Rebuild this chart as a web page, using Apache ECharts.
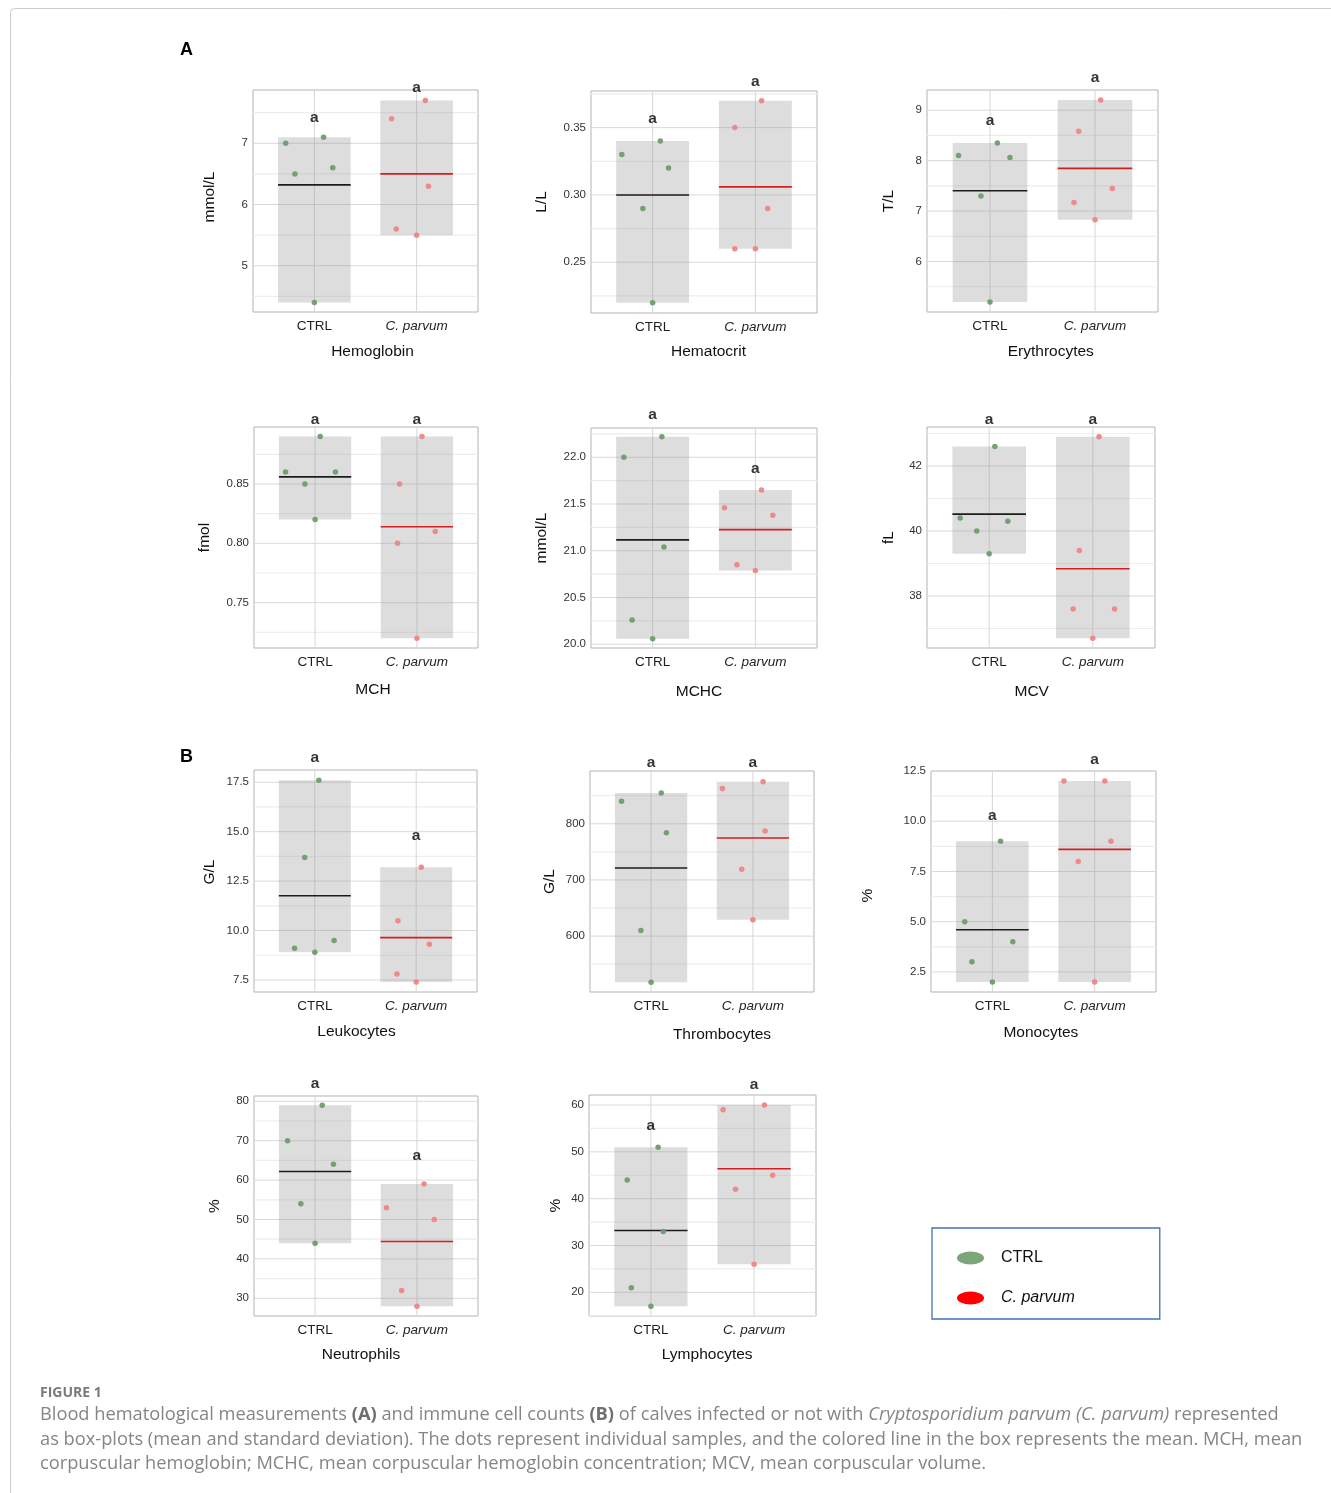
<!DOCTYPE html>
<html>
<head>
<meta charset="utf-8">
<script src="https://cdn.jsdelivr.net/npm/echarts@6/dist/echarts.min.js"></script>
<style>
html,body{margin:0;padding:0;background:#fff;}
#chart{width:1331px;height:1493px;}
</style>
</head>
<body>
<div id="chart"></div>
<script>
// ---------------- DATA ----------------
const groups = ['CTRL', 'C. parvum'];
const panelTitles = ['Hemoglobin', 'Hematocrit', 'Erythrocytes', 'MCH', 'MCHC', 'MCV',
  'Leukocytes', 'Thrombocytes', 'Monocytes', 'Neutrophils', 'Lymphocytes'];
const panelUnits = ['mmol/L', 'L/L', 'T/L', 'fmol', 'mmol/L', 'fL', 'G/L', 'G/L', '%', '%', '%'];

// individual samples (CTRL / C. parvum) and horizontal jitter of the dots
const hemoglobinCtrl = [7.0, 6.5, 7.1, 6.6, 4.4];
const hemoglobinCp = [7.4, 7.7, 6.3, 5.6, 5.5];
const hemoglobinCtrlJitter = [-0.28, -0.19, 0.09, 0.18, 0];
const hemoglobinCpJitter = [-0.245, 0.085, 0.115, -0.2, 0];

const hematocritCtrl = [0.33, 0.34, 0.32, 0.29, 0.22];
const hematocritCp = [0.35, 0.37, 0.29, 0.26, 0.26];
const hematocritCtrlJitter = [-0.30, 0.075, 0.155, -0.095, 0];
const hematocritCpJitter = [-0.2, 0.06, 0.12, -0.2, 0];

const erythrocytesCtrl = [8.1, 8.35, 8.06, 7.3, 5.2];
const erythrocytesCp = [8.58, 9.2, 7.45, 7.17, 6.83];
const erythrocytesCtrlJitter = [-0.30, 0.07, 0.19, -0.086, 0];
const erythrocytesCpJitter = [-0.155, 0.054, 0.165, -0.2, 0];

const mchCtrl = [0.86, 0.89, 0.86, 0.85, 0.82];
const mchCp = [0.85, 0.89, 0.81, 0.80, 0.72];
const mchCtrlJitter = [-0.29, 0.05, 0.2, -0.1, 0];
const mchCpJitter = [-0.17, 0.05, 0.18, -0.19, 0];

const mchcCtrl = [22.0, 22.22, 21.04, 20.26, 20.06];
const mchcCp = [21.46, 21.65, 21.38, 20.85, 20.79];
const mchcCtrlJitter = [-0.28, 0.09, 0.11, -0.2, 0];
const mchcCpJitter = [-0.3, 0.06, 0.17, -0.18, 0];

const mcvCtrl = [40.4, 42.6, 40.3, 40.0, 39.3];
const mcvCp = [39.4, 42.9, 37.6, 37.6, 36.7];
const mcvCtrlJitter = [-0.28, 0.055, 0.18, -0.12, 0];
const mcvCpJitter = [-0.13, 0.06, 0.21, -0.19, 0];

const leukocytesCtrl = [17.6, 13.7, 9.1, 8.9, 9.5];
const leukocytesCp = [13.2, 10.5, 9.3, 7.8, 7.4];
const leukocytesCtrlJitter = [0.04, -0.1, -0.2, 0, 0.19];
const leukocytesCpJitter = [0.05, -0.18, 0.13, -0.19, 0];

const thrombocytesCtrl = [840, 855, 784, 610, 518];
const thrombocytesCp = [863, 875, 787, 719, 629];
const thrombocytesCtrlJitter = [-0.29, 0.1, 0.15, -0.1, 0];
const thrombocytesCpJitter = [-0.3, 0.1, 0.12, -0.11, 0];

const monocytesCtrl = [9, 5, 3, 2, 4];
const monocytesCp = [12, 12, 9, 8, 2];
const monocytesCtrlJitter = [0.08, -0.27, -0.2, 0, 0.2];
const monocytesCpJitter = [-0.3, 0.1, 0.16, -0.16, 0];

const neutrophilsCtrl = [79, 70, 64, 54, 44];
const neutrophilsCp = [59, 53, 50, 32, 28];
const neutrophilsCtrlJitter = [0.07, -0.27, 0.18, -0.14, 0];
const neutrophilsCpJitter = [0.07, -0.3, 0.17, -0.15, 0];

const lymphocytesCtrl = [51, 44, 33, 21, 17];
const lymphocytesCp = [59, 60, 45, 42, 26];
const lymphocytesCtrlJitter = [0.07, -0.23, 0.12, -0.19, 0];
const lymphocytesCpJitter = [-0.3, 0.1, 0.18, -0.18, 0];

// significance letter heights (data units) [CTRL, C. parvum]
const hemoglobinLetterY = [7.42, 7.91];
const hematocritLetterY = [0.3567, 0.3844];
const erythrocytesLetterY = [8.79, 9.635];
const mchLetterY = [0.9045, 0.9045];
const mchcLetterY = [22.452, 21.88];
const mcvLetterY = [43.42, 43.42];
const leukocytesLetterY = [18.72, 14.78];
const thrombocytesLetterY = [908, 908];
const monocytesLetterY = [10.26, 13.07];
const neutrophilsLetterY = [84.5, 66.1];
const lymphocytesLetterY = [55.6, 64.3];
const sigLetters = ['a', 'a'];

// y tick values and labels
const hemoglobinTicks = [5, 6, 7];
const hemoglobinTickLabels = ['5', '6', '7'];
const hematocritTicks = [0.25, 0.30, 0.35];
const hematocritTickLabels = ['0.25', '0.30', '0.35'];
const erythrocytesTicks = [6, 7, 8, 9];
const erythrocytesTickLabels = ['6', '7', '8', '9'];
const mchTicks = [0.75, 0.80, 0.85];
const mchTickLabels = ['0.75', '0.80', '0.85'];
const mchcTicks = [20.0, 20.5, 21.0, 21.5, 22.0];
const mchcTickLabels = ['20.0', '20.5', '21.0', '21.5', '22.0'];
const mcvTicks = [38, 40, 42];
const mcvTickLabels = ['38', '40', '42'];
const leukocytesTicks = [7.5, 10, 12.5, 15, 17.5];
const leukocytesTickLabels = ['7.5', '10.0', '12.5', '15.0', '17.5'];
const thrombocytesTicks = [600, 700, 800];
const thrombocytesTickLabels = ['600', '700', '800'];
const monocytesTicks = [2.5, 5, 7.5, 10, 12.5];
const monocytesTickLabels = ['2.5', '5.0', '7.5', '10.0', '12.5'];
const neutrophilsTicks = [30, 40, 50, 60, 70, 80];
const neutrophilsTickLabels = ['30', '40', '50', '60', '70', '80'];
const lymphocytesTicks = [20, 30, 40, 50, 60];
const lymphocytesTickLabels = ['20', '30', '40', '50', '60'];

// y axis ranges
const yMins = [4.245, 0.2123, 5.0, 0.7118, 19.96, 36.4, 6.89, 500.5, 1.5, 25.5, 14.94];
const yMaxs = [7.87, 0.3772, 9.40, 0.898, 22.313, 43.2, 18.12, 894, 12.5, 81.35, 62.14];

// ---------------- LAYOUT (pixels) ----------------
const gridRects = [ // left, top, right, bottom
  [253, 90, 478, 312], [591, 91, 817, 313], [927, 90, 1158, 312],
  [254, 427, 478, 648], [591, 428, 817, 648], [927, 427, 1155, 648],
  [254, 770, 477, 992], [590, 771, 814, 992], [931, 771, 1156, 992],
  [254, 1096, 478, 1316], [589, 1095, 816, 1316]
];
const yNameDist = [43.7, 49.3, 38.7, 49, 49.6, 38.4, 44.3, 40, 63, 39.3, 33.6];
const yNameShift = [-4, 0, 0, 0, 0, 0, -9, 0, 14, 0, 0];
const xTitleDist = [39.7, 39, 39.7, 41.7, 43.7, 43.3, 39.3, 42.7, 41, 38.3, 38.3];
const xTitleShift = [7, 4.5, 8.3, 7, -5, -9.3, -9, 20, -2.6, -5, 4.7];

const ctrlValues = [hemoglobinCtrl, hematocritCtrl, erythrocytesCtrl, mchCtrl, mchcCtrl, mcvCtrl,
  leukocytesCtrl, thrombocytesCtrl, monocytesCtrl, neutrophilsCtrl, lymphocytesCtrl];
const cpValues = [hemoglobinCp, hematocritCp, erythrocytesCp, mchCp, mchcCp, mcvCp,
  leukocytesCp, thrombocytesCp, monocytesCp, neutrophilsCp, lymphocytesCp];
const ctrlJitters = [hemoglobinCtrlJitter, hematocritCtrlJitter, erythrocytesCtrlJitter, mchCtrlJitter,
  mchcCtrlJitter, mcvCtrlJitter, leukocytesCtrlJitter, thrombocytesCtrlJitter, monocytesCtrlJitter,
  neutrophilsCtrlJitter, lymphocytesCtrlJitter];
const cpJitters = [hemoglobinCpJitter, hematocritCpJitter, erythrocytesCpJitter, mchCpJitter,
  mchcCpJitter, mcvCpJitter, leukocytesCpJitter, thrombocytesCpJitter, monocytesCpJitter,
  neutrophilsCpJitter, lymphocytesCpJitter];
const letterYs = [hemoglobinLetterY, hematocritLetterY, erythrocytesLetterY, mchLetterY, mchcLetterY,
  mcvLetterY, leukocytesLetterY, thrombocytesLetterY, monocytesLetterY, neutrophilsLetterY, lymphocytesLetterY];
const tickValues = [hemoglobinTicks, hematocritTicks, erythrocytesTicks, mchTicks, mchcTicks, mcvTicks,
  leukocytesTicks, thrombocytesTicks, monocytesTicks, neutrophilsTicks, lymphocytesTicks];
const tickLabels = [hemoglobinTickLabels, hematocritTickLabels, erythrocytesTickLabels, mchTickLabels,
  mchcTickLabels, mcvTickLabels, leukocytesTickLabels, thrombocytesTickLabels, monocytesTickLabels,
  neutrophilsTickLabels, lymphocytesTickLabels];

// ---------------- STYLE ----------------
const FONT = '"Liberation Sans", Arial, sans-serif';
const X_MIN = 0.4, X_MAX = 2.6, BOX_HALF = 0.355;
const CTRL_DOT = '#6d9d6d';
const CP_DOT = '#ef8585';
const MEAN_COLORS = ['#1c1c1c', '#d21f1f'];
const ELLIPSE = 'path://M0,6.5A13.5,6.5,0,1,0,27,6.5A13.5,6.5,0,1,0,0,6.5Z';

function mean(a) { return a.reduce((s, v) => s + v, 0) / a.length; }

function renderGridLine(params, api) {
  const kind = api.value(2);
  const cs = params.coordSys;
  const p = api.coord([api.value(0), api.value(1)]);
  if (kind === 2) {
    return { type: 'line', shape: { x1: p[0], y1: cs.y, x2: p[0], y2: cs.y + cs.height },
      style: { stroke: '#d6d6d6', lineWidth: 1 } };
  }
  return { type: 'line', shape: { x1: cs.x, y1: p[1], x2: cs.x + cs.width, y2: p[1] },
    style: { stroke: kind === 0 ? '#d9d9d9' : '#ededed', lineWidth: kind === 0 ? 1 : 1.2 } };
}

function renderBox(params, api) {
  const g = api.value(0), lo = api.value(1), hi = api.value(2), m = api.value(3);
  const tl = api.coord([g - BOX_HALF, hi]);
  const br = api.coord([g + BOX_HALF, lo]);
  const m1 = api.coord([g - BOX_HALF, m]);
  const m2 = api.coord([g + BOX_HALF, m]);
  return { type: 'group', children: [
    { type: 'rect', shape: { x: tl[0], y: tl[1], width: br[0] - tl[0], height: br[1] - tl[1] },
      style: { fill: 'rgba(150,150,150,0.32)' } },
    { type: 'line', shape: { x1: m1[0], y1: m1[1], x2: m2[0], y2: m2[1] },
      style: { stroke: MEAN_COLORS[params.dataIndex], lineWidth: 1.6 } }
  ] };
}

const grids = [], xAxes = [], yAxes = [], series = [];
for (let i = 0; i < panelTitles.length; i++) {
  const r = gridRects[i];
  grids.push({ left: r[0], top: r[1], width: r[2] - r[0], height: r[3] - r[1],
    show: true, borderColor: '#b3b3b3', borderWidth: 1, backgroundColor: '#ffffff' });
  const shift = xTitleShift[i];
  xAxes.push({
    gridIndex: i, type: 'value', min: X_MIN, max: X_MAX,
    axisLine: { show: false }, axisTick: { show: false }, splitLine: { show: false },
    axisLabel: {
      customValues: [1, 2], margin: 7,
      formatter: v => (Math.abs(v - 1) < 1e-6 ? '{n|' + groups[0] + '}' : '{i|' + groups[1] + '}'),
      rich: {
        n: { fontFamily: FONT, fontSize: 13.5, color: '#1f1f1f' },
        i: { fontFamily: FONT, fontSize: 13.5, color: '#1f1f1f', fontStyle: 'italic' }
      }
    },
    name: panelTitles[i], nameLocation: 'middle', nameGap: xTitleDist[i] - 8,
    nameTextStyle: { fontFamily: FONT, fontSize: 15.5, color: '#111',
      padding: shift >= 0 ? [0, 0, 0, 2 * shift] : [0, -2 * shift, 0, 0] }
  });
  const ticks = tickValues[i], labels = tickLabels[i];
  const ys = yNameShift[i];
  yAxes.push({
    gridIndex: i, type: 'value', min: yMins[i], max: yMaxs[i],
    axisLine: { show: false }, axisTick: { show: false }, splitLine: { show: false },
    axisLabel: {
      customValues: ticks, margin: 5, fontFamily: FONT, fontSize: 11.5, color: '#333',
      formatter: v => { const k = ticks.findIndex(t => Math.abs(t - v) < 1e-9); return k >= 0 ? labels[k] : ''; }
    },
    name: panelUnits[i], nameLocation: 'middle', nameGap: yNameDist[i] - 8,
    nameTextStyle: { fontFamily: FONT, fontSize: 15.5, color: '#111',
      padding: ys >= 0 ? [0, 2 * ys, 0, 0] : [0, 0, 0, -2 * ys] }
  });

  // grid lines data (major, minor, vertical)
  const step = ticks.length > 1 ? ticks[1] - ticks[0] : 1;
  const gridData = [];
  ticks.forEach(t => gridData.push([1, t, 0]));
  const minors = [];
  for (let k = 0; k < ticks.length - 1; k++) minors.push((ticks[k] + ticks[k + 1]) / 2);
  minors.push(ticks[0] - step / 2, ticks[ticks.length - 1] + step / 2);
  minors.filter(v => v >= yMins[i] && v <= yMaxs[i]).forEach(v => gridData.push([1, v, 1]));
  gridData.push([1, (yMins[i] + yMaxs[i]) / 2, 2], [2, (yMins[i] + yMaxs[i]) / 2, 2]);

  series.push({
    type: 'custom', name: 'grid' + i, xAxisIndex: i, yAxisIndex: i, z: 1, silent: true,
    renderItem: renderGridLine, data: gridData, encode: { x: 0, y: 1 }
  });
  const c = ctrlValues[i], p = cpValues[i];
  series.push({
    type: 'custom', name: 'box' + i, xAxisIndex: i, yAxisIndex: i, z: 2, silent: true,
    renderItem: renderBox,
    data: [[1, Math.min(...c), Math.max(...c), mean(c)], [2, Math.min(...p), Math.max(...p), mean(p)]],
    encode: { x: 0, y: [1, 2, 3] }
  });
  series.push({
    type: 'scatter', name: groups[0], xAxisIndex: i, yAxisIndex: i, z: 3, symbolSize: 5.5,
    itemStyle: { color: CTRL_DOT, opacity: 0.95 },
    data: c.map((v, k) => [1 + ctrlJitters[i][k], v])
  });
  series.push({
    type: 'scatter', name: groups[1], xAxisIndex: i, yAxisIndex: i, z: 3, symbolSize: 5.5,
    itemStyle: { color: CP_DOT, opacity: 0.95 },
    data: p.map((v, k) => [2 + cpJitters[i][k], v])
  });
  series.push({
    type: 'scatter', name: 'letters' + i, xAxisIndex: i, yAxisIndex: i, z: 4, symbolSize: 0, clip: false,
    silent: true,
    label: { show: true, position: 'inside', formatter: d => sigLetters[d.dataIndex],
      fontFamily: FONT, fontWeight: 'bold', fontSize: 15.5, color: '#000' },
    data: letterYs[i].map((v, k) => [k + 1, v])
  });
}

const CAP_COLOR = '#858585';
const CAP_FONT = '"Open Sans", "Noto Sans", sans-serif';
const CAP_SIZE = 18.25;
const capRich = {
  b: { fontFamily: CAP_FONT, fontSize: CAP_SIZE, fontWeight: 'bold', fill: '#6f6f6f' },
  i: { fontFamily: CAP_FONT, fontSize: CAP_SIZE, fontStyle: 'italic', fill: CAP_COLOR }
};

const option = {
  animation: false,
  backgroundColor: '#ffffff',
  grid: grids, xAxis: xAxes, yAxis: yAxes, series: series,
  legend: {
    orient: 'vertical', left: 932, top: 1228, selectedMode: false,
    borderColor: '#3f72b8', borderWidth: 1.3, padding: [22, 85, 13, 25],
    itemWidth: 27, itemHeight: 13, itemGap: 24,
    textStyle: { fontFamily: FONT, fontSize: 16, color: '#111', padding: [0, 0, 0, 12] },
    data: [
      { name: groups[0], icon: ELLIPSE, itemStyle: { color: '#7aa67a', opacity: 1 } },
      { name: groups[1], icon: ELLIPSE, itemStyle: { color: '#ff0000', opacity: 1 },
        textStyle: { fontStyle: 'italic' } }
    ]
  },
  graphic: [
    { type: 'rect', shape: { x: 10.5, y: 8.5, width: 1340, height: 1500, r: 4 }, silent: true,
      style: { fill: 'none', stroke: '#cccccc', lineWidth: 1 } },
    { type: 'text', x: 180, y: 41, silent: true,
      style: { text: 'A', font: 'bold 18px ' + FONT, fill: '#000' } },
    { type: 'text', x: 180, y: 748, silent: true,
      style: { text: 'B', font: 'bold 18px ' + FONT, fill: '#000' } },
    { type: 'text', x: 40, y: 1386, silent: true,
      style: { text: 'FIGURE 1', font: 'bold 14px ' + CAP_FONT, fill: '#7a7a7a' } },
    { type: 'text', x: 40, y: 1406, silent: true,
      style: { text: 'Blood hematological measurements {b|(A)} and immune cell counts {b|(B)} of calves infected or not with {i|Cryptosporidium parvum (C. parvum)} represented',
        font: CAP_SIZE + 'px ' + CAP_FONT, fill: CAP_COLOR, rich: capRich } },
    { type: 'text', x: 40, y: 1431, silent: true,
      style: { text: 'as box-plots (mean and standard deviation). The dots represent individual samples, and the colored line in the box represents the mean. MCH, mean',
        font: CAP_SIZE + 'px ' + CAP_FONT, fill: CAP_COLOR } },
    { type: 'text', x: 40, y: 1455, silent: true,
      style: { text: 'corpuscular hemoglobin; MCHC, mean corpuscular hemoglobin concentration; MCV, mean corpuscular volume.',
        font: CAP_SIZE + 'px ' + CAP_FONT, fill: CAP_COLOR } }
  ]
};

const chart = echarts.init(document.getElementById('chart'), null, { renderer: 'canvas' });
chart.setOption(option);
</script>
</body>
</html>
